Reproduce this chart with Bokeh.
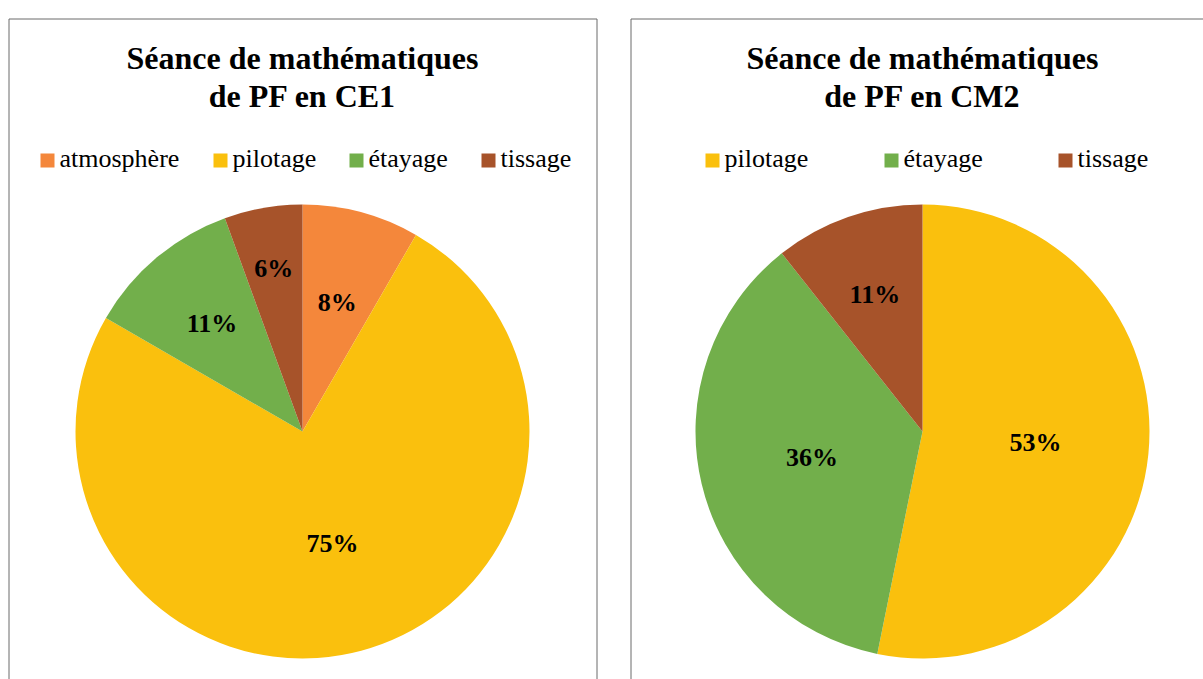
import numpy as np
from bokeh.plotting import figure
from bokeh.models import ColumnDataSource, Range1d
from bokeh.embed import file_html
from bokeh.resources import INLINE
from bokeh.core.properties import value

# ---------------- data ----------------
ce1_categories = ["atmosphère", "pilotage", "étayage", "tissage"]
ce1_values = [3, 27, 4, 2]
cm2_categories = ["pilotage", "étayage", "tissage"]
cm2_values = [25, 17, 5]
ce1_title = ["Séance de mathématiques", "de PF en CE1"]
cm2_title = ["Séance de mathématiques", "de PF en CM2"]

# ---------------- style / layout ----------------
COLORS = {
    "atmosphère": "#F4873B",
    "pilotage": "#FAC00D",
    "étayage": "#72AF4B",
    "tissage": "#A7532A",
}
FONT = "'Liberation Serif', 'Times New Roman', serif"
W, H = 1203, 679
ce1_legend_x = [40, 213, 349, 481]     # left edge of each legend swatch (px)
cm2_legend_x = [705, 884, 1058]
ce1_label_r = [0.59, 0.51, 0.62, 0.73]  # label distance / radius
cm2_label_r = [0.5, 0.5, 0.64]


def X(px):
    return px


def Y(py):
    return H - py


p = figure(width=W, height=H, x_range=Range1d(0, W), y_range=Range1d(0, H),
           output_backend="svg", toolbar_location=None, min_border=0,
           x_axis_location=None, y_axis_location=None)
p.grid.visible = False
p.outline_line_color = None
p.background_fill_color = "white"
p.border_fill_color = "white"


def panel(cats, vals, title, panel_left, cx, cy, R, legend_x, label_fracs):
    # border of the chart area
    p.quad(left=[X(panel_left) + 0.5], right=[X(panel_left) + 588.5],
           top=[Y(18) - 0.5], bottom=[-20], fill_color=None,
           line_color="#6b6b6b", line_width=1)
    # title
    p.text(x=[X(cx)] * 2, y=[Y(57), Y(95)], text=title, text_align="center",
           text_baseline="middle", text_font=value(FONT),
           text_font_size="32px", text_font_style="bold", text_color="black")
    # pie
    total = float(sum(vals))
    frac = np.array(vals, dtype=float) / total
    cum = np.concatenate([[0.0], np.cumsum(frac)])
    start = np.pi / 2 - cum[:-1] * 2 * np.pi
    end = np.pi / 2 - cum[1:] * 2 * np.pi
    colors = [COLORS[c] for c in cats]
    src = ColumnDataSource(dict(cat=cats, start=start, end=end, color=colors))
    p.wedge(x=X(cx), y=Y(cy), radius=R, start_angle="start",
            end_angle="end", direction="clock", fill_color="color",
            line_color=None, source=src)
    # data labels
    mid = (start + end) / 2
    fr = np.array(label_fracs)
    lx = X(cx) + fr * R * np.cos(mid)
    ly = Y(cy) + fr * R * np.sin(mid)
    labels = ["%d%%" % round(f * 100) for f in frac]
    p.text(x=lx, y=ly, text=labels, text_align="center", text_baseline="middle",
           text_font=value(FONT), text_font_size="26px",
           text_font_style="bold", text_color="black")
    # legend
    lxs = np.array(legend_x, dtype=float)
    lsrc = ColumnDataSource(dict(x=lxs + 7, tx=lxs + 19, cat=cats, color=colors))
    p.rect(x="x", y=Y(160), width=14, height=14, fill_color="color",
           line_color=None, source=lsrc)
    p.text(x="tx", y=Y(158), text="cat", text_align="left",
           text_baseline="alphabetic", text_font=value(FONT),
           text_font_size="26px", text_color="black", source=lsrc)


panel(ce1_categories, ce1_values, ce1_title, 8, 302, 431, 227, ce1_legend_x,
      ce1_label_r)
panel(cm2_categories, cm2_values, cm2_title, 630, 922, 431, 227, cm2_legend_x,
      cm2_label_r)

open("out.html", "w").write(file_html(p, INLINE))
